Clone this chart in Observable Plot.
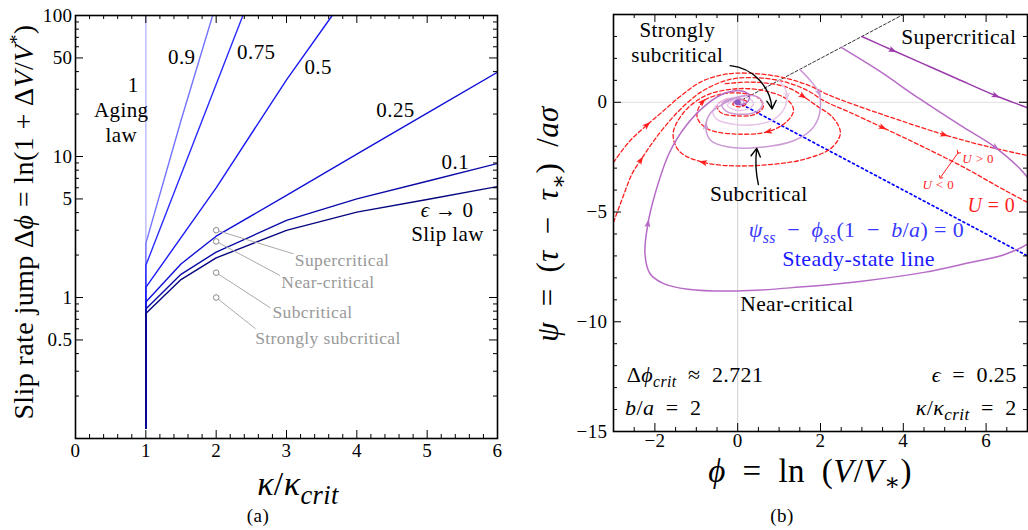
<!DOCTYPE html>
<html><head><meta charset="utf-8">
<script src="https://cdn.jsdelivr.net/npm/d3@7"></script>
<script src="https://cdn.jsdelivr.net/npm/@observablehq/plot@0.6"></script>
<style>
body{margin:0;background:#fff;}
#fig{position:relative;width:1028px;height:530px;}
#fig svg{position:absolute;top:0;overflow:visible;}
</style></head><body><div id="fig"></div>
<script>
// ================= Panel (a) data =================
const xTicksA = [0, 1, 2, 3, 4, 5, 6];
const yTicksA = [0.5, 1, 5, 10, 50, 100];
const yMinorA = [0.2,0.3,0.4,0.6,0.7,0.8,0.9,2,3,4,6,7,8,9,20,30,40,60,70,80,90];
const epsNames = ["1", "0.9", "0.75", "0.5", "0.25", "0.1", "0"];
const kEps1   = [1, 1];                 const dEps1   = [0.118, 100];
const kEps09  = [1, 1, 1.5, 1.95];      const dEps09  = [0.118, 2.42, 18, 100];
const kEps075 = [1, 1, 2.38];           const dEps075 = [0.118, 1.69, 100];
const kEps05  = [1, 1, 2, 3, 3.65];     const dEps05  = [0.118, 1.18, 6.0, 35, 100];
const kEps025 = [1, 1, 1.5, 2, 3, 4, 5, 6]; const dEps025 = [0.118, 0.93, 1.73, 2.72, 5.3, 10.4, 20.3, 39.6];
const kEps01  = [1, 1, 1.5, 2, 3, 4, 5, 6]; const dEps01  = [0.118, 0.83, 1.46, 2.1, 3.52, 5.01, 6.67, 8.92];
const kEps0   = [1, 1, 1.5, 2, 3, 4, 5, 6]; const dEps0   = [0.118, 0.77, 1.34, 1.91, 2.99, 4.03, 4.95, 6.12];
const regimeNames = ["Supercritical", "Near-critical", "Subcritical", "Strongly subcritical"];
const regimeKappa = [2, 2, 2, 2];
const regimeDphi  = [3, 2.5, 1.5, 1];

// ================= Panel (b) data =================
const xTicksB = [-2, 0, 2, 4, 6];
const yTicksB = [-15, -10, -5, 0];
const ssLine   = [[0, 0], [7, -7]];
const jumpLine = [[0, 0], [4, 4]];
const trajSuper = [[3,3],[3.73,2.38],[4.5,1.74],[5.3,1.07],[6.22,0.31],[7,-0.25],[7.6,-0.7]];
const trajNear = [[2.5,2.5],[3.4,1.45],[4.4,0.15],[5.4,-1.08],[6.22,-2.05],[6.9,-3.2],[7.3,-4.3],[7.35,-5.3],[7.1,-6.3],[6.5,-6.9],[5.5,-7.35],[4.5,-7.75],[3,-8.15],[1.5,-8.42],[0,-8.6],[-1.2,-8.52],[-1.8,-8.25],[-2.12,-7.8],[-2.24,-6.9],[-2.17,-5.55],[-2.0,-4.2],[-1.65,-2.3],[-1.22,-1.0],[-0.74,-0.08],[-0.3,0.42],[0.07,0.53],[0.28,0.32],[0.24,0.03],[0.05,-0.1],[-0.1,0],[0,0.06],[0.03,0]];
const trajSub = [[1.5,1.5],[1.75,1.0],[1.96,0.45],[2.0,0.0],[1.95,-0.7],[1.75,-1.3],[1.35,-1.75],[0.55,-2.05],[-0.26,-2.03],[-0.66,-1.72],[-0.77,-1.1],[-0.66,-0.5],[-0.3,-0.02],[0.14,0.3],[0.48,0.25],[0.6,-0.05],[0.48,-0.4],[0.1,-0.55],[-0.28,-0.4],[-0.38,-0.1],[-0.2,0.14],[0.1,0.14],[0.15,-0.05],[0,-0.1],[-0.05,0],[0,0]];
const trajStrong = [[1,1],[1.15,0.6],[1.19,0.3],[1.12,-0.3],[0.85,-0.8],[0.4,-1.02],[-0.1,-1.0],[-0.5,-0.78],[-0.6,-0.4],[-0.42,0.0],[-0.1,0.22],[0.25,0.2],[0.38,-0.05],[0.25,-0.3],[-0.05,-0.35],[-0.25,-0.15],[-0.12,0.08],[0.08,0.06],[0.05,-0.06],[0,0]];
const redOuter = [[-3,-2.74],[-2.6,-1.75],[-2.2,-1.05],[-1.8,-0.4],[-1.4,0.25],[-0.9,0.92],[-0.4,1.24],[0,1.33],[0.6,1.28],[1.2,1.08],[1.7,0.78],[2.2,0.33],[2.8,-0.1],[3.8,-0.75],[4.97,-1.47],[6,-2.0],[7,-2.43],[7.5,-2.65]];
const redSeparatrix = [[-3,-5.47],[-2.75,-4.2],[-2.55,-3.25],[-2.35,-2.66],[-2.1,-1.95],[-1.8,-1.2],[-1.4,-0.35],[-0.9,0.45],[-0.4,0.92],[0,1.1],[0.6,1.1],[1.2,0.9],[1.7,0.52],[2.1,0.05],[2.7,-0.45],[3.49,-1.14],[4.5,-2.05],[5.5,-3.0],[6.3,-3.85],[7,-4.56],[7.5,-5.05]];
const redSpiral = [[-0.3,0.85],[0.3,0.92],[0.9,0.82],[1.3,0.6],[1.56,0.3],[1.9,-0.15],[2.3,-0.7],[2.48,-1.4],[2.25,-2.1],[1.6,-2.6],[0.87,-2.82],[0,-2.9],[-0.82,-2.74],[-1.4,-2.25],[-1.56,-1.45],[-1.32,-0.5],[-0.78,0.3],[0,0.62],[0.7,0.5],[1.2,0.12],[1.35,-0.35],[1.2,-0.85],[0.75,-1.33],[0,-1.45],[-0.72,-1.22],[-0.98,-0.68],[-0.86,0.0],[-0.45,0.35],[0.08,0.42],[0.5,0.2],[0.62,-0.2],[0.42,-0.55],[0,-0.62],[-0.4,-0.48],[-0.5,-0.15],[-0.3,0.12],[0,0.16],[0.22,0.04],[0.16,-0.15],[0,-0.2],[-0.12,-0.08],[-0.05,0.04],[0.02,0]];
// indices of points carrying an arrowhead
const arrSuper = [1, 4], arrNear = [4, 19], arrSub = [2, 10], arrStrong = [2];
const arrOuter = [2, 14], arrSep = [3, 15], arrSpiral = [4, 12, 22, 26];

// ================= helpers =================
const FONT = "'Liberation Serif', 'DejaVu Serif', serif";
const fig = document.getElementById("fig");
const SP = "\u2002";

function addMath(svg, x, y, parts, o = {}) {
  const size = o.size || 20;
  const subR = o.subRatio || 0.72;
  const t = d3.select(svg).append("text")
    .attr("x", x).attr("y", y + 0.33 * size)
    .attr("font-family", FONT).attr("font-size", size)
    .attr("fill", o.fill || "black")
    .attr("text-anchor", o.anchor || "middle");
  if (o.rotate) t.attr("transform", `rotate(${o.rotate},${x},${y})`);
  let shift = 0;
  for (const [s, k = ""] of parts) {
    const sp = t.append("tspan").text(s);
    let target = 0;
    if (k === "sub" || k === "subi") { target = 0.25 * size; sp.attr("font-size", size * subR); }
    if (k === "sup") { target = -0.38 * size; sp.attr("font-size", size * 0.7); }
    if (k === "i" || k === "subi") sp.attr("font-style", "italic");
    if (target !== shift) { sp.attr("dy", target - shift); shift = target; }
  }
  return t;
}

const arrowHead = {
  draw(ctx, size) {
    const r = Math.sqrt(size / Math.PI);
    ctx.moveTo(0, -1.7 * r);
    ctx.lineTo(1.0 * r, 1.1 * r);
    ctx.lineTo(0, 0.45 * r);
    ctx.lineTo(-1.0 * r, 1.1 * r);
    ctx.closePath();
  }
};
function headsFor(traj, idx, kx, ky) {
  return idx.map(i => {
    const a = traj[Math.max(0, i - 1)], b = traj[Math.min(traj.length - 1, i + 1)];
    const dx = (b[0] - a[0]) * kx, dy = -(b[1] - a[1]) * ky;
    return {x: traj[i][0], y: traj[i][1], angle: Math.atan2(dx, -dy) * 180 / Math.PI};
  });
}

// ================= Panel (a) =================
const wA = 514, hA = 530;
const mA = {top: 15, right: 17, bottom: 92, left: 75};
const iwA = wA - mA.left - mA.right, ihA = hA - mA.top - mA.bottom;
const seriesA = [
  {k: kEps1, d: dEps1, color: "#b9b9ff"},
  {k: kEps09, d: dEps09, color: "#7474ff"},
  {k: kEps075, d: dEps075, color: "#2b2bff"},
  {k: kEps05, d: dEps05, color: "#1a1af5"},
  {k: kEps025, d: dEps025, color: "#1010d8"},
  {k: kEps01, d: dEps01, color: "#0a0aa8"},
  {k: kEps0, d: dEps0, color: "#05057e"}
];
const xMinorA = d3.range(0, 6.001, 0.2).filter(v => Math.abs(v - Math.round(v)) > 1e-6);
const regimes = regimeNames.map((n, i) => ({name: n, kappa: regimeKappa[i], dphi: regimeDphi[i]}));
const regimeLabelPos = [[3.79, 1.845], [3.59, 1.288], [3.37, 0.783], [3.59, 0.512]];
const regimeLeaderEnd = [[3.10, 2.04], [2.91, 1.43], [2.77, 0.845], [2.56, 0.6]];
const epsLabelPos = [[0.82, 31.9], [1.51, 50.4], [2.57, 54.7], [3.45, 42.8], [4.55, 21.2], [5.4, 9.06]];

const plotA = Plot.plot({
  width: wA, height: hA,
  marginTop: mA.top, marginRight: mA.right, marginBottom: mA.bottom, marginLeft: mA.left,
  x: {domain: [0, 6], axis: null},
  y: {type: "log", domain: [0.1, 100], axis: null},
  style: {fontFamily: FONT, fontSize: "19px", background: "transparent", overflow: "visible", color: "black", letterSpacing: "0.4px"},
  marks: [
    ...seriesA.map(s => Plot.line(s.k.map((k, i) => [k, s.d[i]]), {stroke: s.color, strokeWidth: 1.4, clip: true})),
    Plot.link(regimes, {x1: "kappa", y1: "dphi", x2: (d, i) => regimeLeaderEnd[i][0], y2: (d, i) => regimeLeaderEnd[i][1], stroke: "#aaaaaa", strokeWidth: 1}),
    Plot.dot(regimes, {x: "kappa", y: "dphi", r: 2.8, stroke: "#888", fill: "white", strokeWidth: 1}),
    Plot.text(regimes, {x: (d, i) => regimeLabelPos[i][0], y: (d, i) => regimeLabelPos[i][1], text: "name", fill: "#999", fontSize: 17.5}),
    Plot.text(epsNames.slice(0, 6), {x: (d, i) => epsLabelPos[i][0], y: (d, i) => epsLabelPos[i][1], text: d => d, fontSize: 21}),
    Plot.text(["Aging", "law"], {x: [0.65, 0.65], y: [21.2, 14.1], text: d => d, fontSize: 21}),
    Plot.text(["Slip law"], {x: [5.29], y: [2.8], text: d => d, fontSize: 21}),
    Plot.tickX(xTicksA, {x: d => d, insetTop: ihA - 8, strokeWidth: 1}),
    Plot.tickX(xTicksA, {x: d => d, insetBottom: ihA - 8, strokeWidth: 1}),
    Plot.tickX(xMinorA, {x: d => d, insetTop: ihA - 4, strokeWidth: 1}),
    Plot.tickX(xMinorA, {x: d => d, insetBottom: ihA - 4, strokeWidth: 1}),
    Plot.tickY(yTicksA, {y: d => d, insetRight: iwA - 8, strokeWidth: 1}),
    Plot.tickY(yTicksA, {y: d => d, insetLeft: iwA - 8, strokeWidth: 1}),
    Plot.tickY(yMinorA, {y: d => d, insetRight: iwA - 4, strokeWidth: 1}),
    Plot.tickY(yMinorA, {y: d => d, insetLeft: iwA - 4, strokeWidth: 1}),
    Plot.text(xTicksA, {x: d => d, y: 0.1, text: d => String(d), dy: 12, fontSize: 19}),
    Plot.text(yTicksA, {x: 0, y: d => d, text: d => String(d), textAnchor: "end", dx: -3, fontSize: 19}),
    Plot.frame({stroke: "black", strokeWidth: 1.6})
  ]
});
plotA.style.left = "0px";
fig.appendChild(plotA);
{
  const xs = plotA.scale("x"), ys = plotA.scale("y");
  addMath(plotA, xs.apply(5.29), ys.apply(4.15), [["ϵ", "i"], [" → 0"]], {size: 21});
  addMath(plotA, 24, 222, [["Slip rate jump Δ"], ["ϕ", "i"], [" = ln(1 + Δ"], ["V", "i"], ["/"], ["V", "i"], ["*", "sup"], [")"]], {size: 28, rotate: -90});
  addMath(plotA, 298, 484, [["κ", "i"], ["/"], ["κ", "i"], ["crit", "subi"]], {size: 34, subRatio: 0.78});
  addMath(plotA, 258, 516, [["(a)"]], {size: 19});
}

// ================= Panel (b) =================
const wB = 514, hB = 530;
const mB = {top: 14, right: 1, bottom: 99, left: 99};
const iwB = wB - mB.left - mB.right, ihB = hB - mB.top - mB.bottom;
const kx = iwB / 10, ky = ihB / 19;
const RED = "#ff1f1f";
const cSuper = "#9a3daa", cNear = "#b76bc6", cSub = "#cc9ad5", cStrong = "#e8c6ea";
const xMinorB = d3.range(-3, 7.001, 0.5).filter(v => !xTicksB.includes(v));
const yMinorB = d3.range(-15, 4.001, 1).filter(v => !yTicksB.includes(v));
const redCurves = [[redOuter, arrOuter], [redSeparatrix, arrSep], [redSpiral, arrSpiral]];
const purpleCurves = [[trajStrong, arrStrong, cStrong], [trajSub, arrSub, cSub], [trajNear, arrNear, cNear], [trajSuper, arrSuper, cSuper]];

const plotB = Plot.plot({
  width: wB, height: hB,
  marginTop: mB.top, marginRight: mB.right, marginBottom: mB.bottom, marginLeft: mB.left,
  x: {domain: [-3, 7]},
  y: {domain: [-15, 4]},
  style: {fontFamily: FONT, fontSize: "19px", background: "transparent", overflow: "visible", color: "black", letterSpacing: "0.4px"},
  marks: [
    Plot.ruleX([0], {stroke: "#d0d0d0", strokeWidth: 1}),
    Plot.ruleY([0], {stroke: "#e0e0e0", strokeWidth: 1}),
    Plot.line(jumpLine, {stroke: "black", strokeWidth: 0.8, strokeDasharray: "3,2", clip: true}),
    Plot.line(ssLine, {stroke: "#0000ff", strokeWidth: 1.7, strokeDasharray: "2,3", clip: true}),
    ...redCurves.map(([c]) => Plot.line(c, {stroke: RED, strokeWidth: 1.3, strokeDasharray: "4,2.5", curve: "catmull-rom", clip: true})),
    ...redCurves.map(([c, a]) => Plot.dot(headsFor(c, a, kx, ky), {x: "x", y: "y", rotate: "angle", symbol: arrowHead, r: 3, fill: RED, stroke: "none", clip: true})),
    ...purpleCurves.map(([c, a, col]) => Plot.line(c, {stroke: col, strokeWidth: 1.5, curve: "catmull-rom", clip: true})),
    ...purpleCurves.map(([c, a, col]) => Plot.dot(headsFor(c, a, kx, ky), {x: "x", y: "y", rotate: "angle", symbol: arrowHead, r: 3, fill: col, stroke: "none", clip: true})),
    Plot.dot([[0, 0]], {r: 3, fill: "#8a5ac4", stroke: "none"}),
    Plot.arrow([[-0.18, 1.67, 0.83, -0.3]], {x1: d => d[0], y1: d => d[1], x2: d => d[2], y2: d => d[3], bend: 40, stroke: "black", strokeWidth: 1.4, headLength: 10}),
    Plot.arrow([[0.5, -3.75, 0.46, -2.1]], {x1: d => d[0], y1: d => d[1], x2: d => d[2], y2: d => d[3], bend: 10, stroke: "black", strokeWidth: 1.4, headLength: 10}),
    Plot.link([[5.33, -2.28, 4.9, -3.42]], {x1: d => d[0], y1: d => d[1], x2: d => d[2], y2: d => d[3], stroke: RED, strokeWidth: 1, markerStart: "arrow", markerEnd: "arrow"}),
    Plot.text(["Strongly", "subcritical"], {x: [-1.46, -1.46], y: [3.27, 2.13], text: d => d, fontSize: 21}),
    Plot.text(["Subcritical"], {x: [0.51], y: [-4.18], text: d => d, fontSize: 21.5}),
    Plot.text(["Supercritical"], {x: [5.34], y: [2.96], text: d => d, fontSize: 21.5}),
    Plot.text(["Near-critical"], {x: [1.43], y: [-9.19], text: d => d, fontSize: 21.5}),
    Plot.text(["Steady-state line"], {x: [2.92], y: [-7.15], text: d => d, fontSize: 22, fill: "#1a1aff"}),
    Plot.tickX(xTicksB, {x: d => d, insetTop: ihB - 8, strokeWidth: 1}),
    Plot.tickX(xTicksB, {x: d => d, insetBottom: ihB - 8, strokeWidth: 1}),
    Plot.tickX(xMinorB, {x: d => d, insetTop: ihB - 4, strokeWidth: 1}),
    Plot.tickX(xMinorB, {x: d => d, insetBottom: ihB - 4, strokeWidth: 1}),
    Plot.tickY(yTicksB, {y: d => d, insetRight: iwB - 8, strokeWidth: 1}),
    Plot.tickY(yTicksB, {y: d => d, insetLeft: iwB - 8, strokeWidth: 1}),
    Plot.tickY(yMinorB, {y: d => d, insetRight: iwB - 4, strokeWidth: 1}),
    Plot.tickY(yMinorB, {y: d => d, insetLeft: iwB - 4, strokeWidth: 1}),
    Plot.axisX({ticks: xTicksB, tickSize: 0, tickPadding: 2, label: null}),
    Plot.axisY({ticks: yTicksB, tickSize: 0, tickPadding: 6, label: null}),
    Plot.frame({stroke: "black", strokeWidth: 1.6})
  ]
});
plotB.style.left = "514px";
fig.appendChild(plotB);
{
  const xs = plotB.scale("x"), ys = plotB.scale("y");
  addMath(plotB, xs.apply(2.88), ys.apply(-5.85), [["ψ", "i"], ["ss", "subi"], [SP + "−" + SP], ["ϕ", "i"], ["ss", "subi"], ["(1" + SP + "−" + SP], ["b", "i"], ["/"], ["a", "i"], [") = 0"]], {size: 22, fill: "#3838ff"});
  addMath(plotB, xs.apply(5.82), ys.apply(-2.58), [["U", "i"], [" > 0"]], {size: 13, fill: RED});
  addMath(plotB, xs.apply(4.86), ys.apply(-3.8), [["U", "i"], [" < 0"]], {size: 13, fill: RED});
  addMath(plotB, xs.apply(6.14), ys.apply(-4.71), [["U", "i"], [" = 0"]], {size: 20, fill: RED});
  addMath(plotB, xs.apply(-2.67), ys.apply(-12.42), [["Δ"], ["ϕ", "i"], ["crit", "subi"], [SP + "≈" + SP + "2.721"]], {size: 22, anchor: "start"});
  addMath(plotB, xs.apply(-2.71), ys.apply(-13.92), [["b", "i"], ["/"], ["a", "i"], [SP + "=" + SP + "2"]], {size: 22, anchor: "start"});
  addMath(plotB, xs.apply(6.75), ys.apply(-12.42), [["ϵ", "i"], [SP + "=" + SP + "0.25"]], {size: 22, anchor: "end"});
  addMath(plotB, xs.apply(6.75), ys.apply(-13.92), [["κ", "i"], ["/"], ["κ", "i"], ["crit", "subi"], [SP + "=" + SP + "2"]], {size: 22, anchor: "end", subRatio: 0.78});
  addMath(plotB, 296, 471, [["ϕ", "i"], [SP + "=" + SP + "ln" + SP + "("], ["V", "i"], ["/"], ["V", "i"], ["∗", "sub"], [")"]], {size: 33});
  addMath(plotB, 34, 224, [["ψ", "i"], [SP + "=" + SP + "("], ["τ", "i"], [SP + "−" + SP], ["τ", "i"], ["∗", "sub"], [")" + SP + "/"], ["aσ", "i"]], {size: 31, rotate: -90});
  addMath(plotB, 268, 516, [["(b)"]], {size: 19});
}
</script></body></html>
